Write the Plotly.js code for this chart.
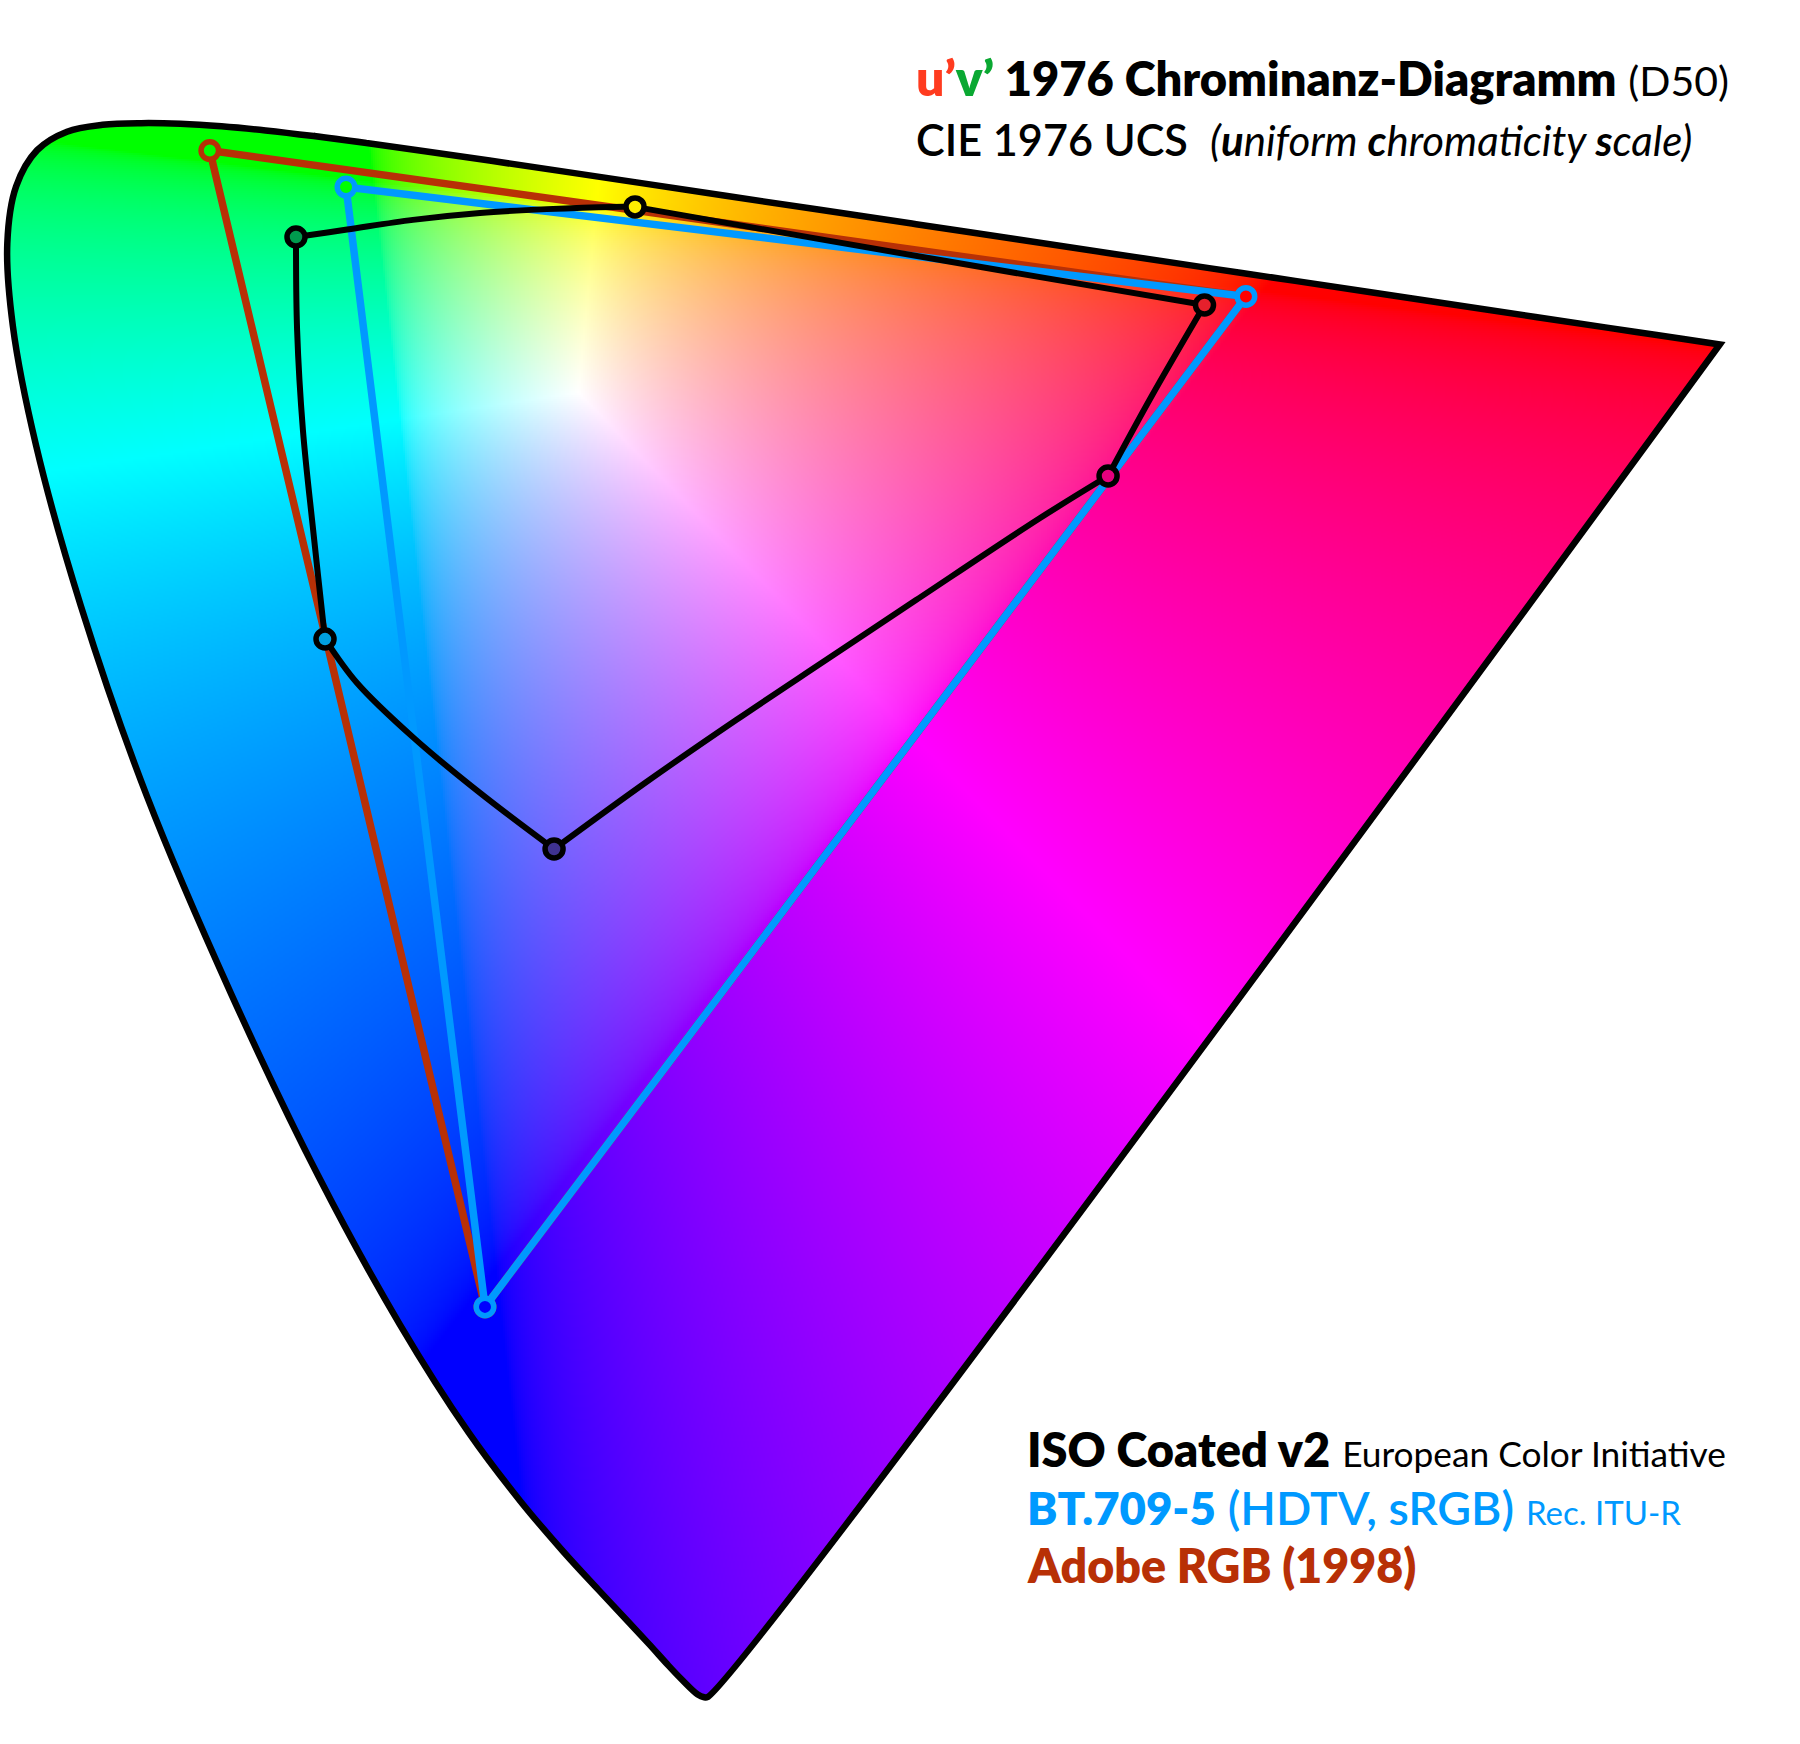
<!DOCTYPE html>
<html><head><meta charset="utf-8">
<script src="https://cdn.plot.ly/plotly-3.0.1.min.js"></script>
<style>html,body{margin:0;padding:0;background:#fff}</style></head>
<body><div id="chart" style="width:1800px;height:1744px"></div>
<script>
// CIE 1931 spectral locus chromaticities, 400 nm to 700 nm
const locusNm = [400,410,420,430,435,440,445,450,455,460,465,470,475,480,485,490,495,500,505,510,515,520,525,530,535,540,545,550,555,560,565,570,575,580,585,590,595,600,605,610,620,630,640,650,700];
const locusX = [.1733,.1726,.1714,.1689,.1669,.1644,.1611,.1566,.1510,.1440,.1355,.1241,.1096,.0913,.0687,.0454,.0235,.0082,.0039,.0139,.0389,.0743,.1142,.1547,.1929,.2296,.2658,.3016,.3373,.3731,.4087,.4441,.4788,.5125,.5448,.5752,.6029,.6270,.6482,.6658,.6915,.7079,.7190,.7260,.7347];
const locusY = [.0048,.0048,.0051,.0069,.0086,.0109,.0138,.0177,.0227,.0297,.0399,.0578,.0868,.1327,.2007,.2950,.4127,.5384,.6548,.7502,.8120,.8338,.8262,.8059,.7816,.7543,.7243,.6923,.6589,.6245,.5896,.5547,.5202,.4866,.4544,.4242,.3965,.3725,.3514,.3340,.3083,.2920,.2809,.2740,.2653];
// the drawn outline sits slightly inside the true locus
const insetCentre = [.28,.016], insetScale = [0.9965,0.998];

// gamut triangles (u', v'): red, green, blue, red
const adobeU = [.4507,.0757,.1753,.4507];
const adobeV = [.5229,.5757,.1572,.5229];
const adobeHole = ['#ff0000','#00ff00','#0000ff'];
const srgbU = [.4507,.1250,.1753,.4507];
const srgbV = [.5229,.5625,.1572,.5229];
const srgbHole = ['#ff0000','#00ff00','#0000ff'];

// ISO Coated v2 outline; repeated values are the gamut corners
const isoU = [.1069,.1069,.1254,.1492,.1735,.1977,.2216,.2296,.2296,.3422,.4357,.4357,.4164,.4008,.4008,.3762,.3313,.2987,.2662,.2332,.2003,.2003,.1735,.1492,.1290,.1174,.1174,.1131,.1094,.1073,.1069,.1069];
const isoV = [.5444,.5444,.5471,.5506,.5531,.5545,.5553,.5553,.5553,.5357,.5198,.5198,.4865,.4579,.4579,.4427,.4130,.3913,.3696,.3468,.3229,.3229,.3432,.3634,.3830,.3989,.3989,.4384,.4746,.5107,.5444,.5444];
const isoCornerU = [.1069,.2296,.4357,.4008,.2003,.1174];
const isoCornerV = [.5444,.5553,.5198,.4579,.3229,.3989];
const isoCornerFill = ['#009a4e','#ffed00','#e6202c','#e6007e','#3f3290','#00a0e0'];

const rangeU = [-0.00023, 0.65123];
const rangeV = [-0.00100, 0.63018];

const BLACK='#000000', BLUE='#0099ff', BRICK='#b83006';

function toU(x,y){return 4*x/(-2*x+12*y+3);}
function toV(x,y){return 9*y/(-2*x+12*y+3);}
const lu = locusX.map((x,i)=>insetCentre[0]+(toU(x,locusY[i])-insetCentre[0])*insetScale[0]);
const lv = locusX.map((x,i)=>insetCentre[1]+(toV(x,locusY[i])-insetCentre[1])*insetScale[1]);
// closed path beginning at 550 nm: the purple line joins 700 nm to 400 nm
const startI = locusNm.indexOf(550), endI = locusNm.length-1;
const order = [];
for(let i=startI;i<=endI;i++) order.push(i);
order.push(endI);
for(let i=0;i<=startI+1;i++) order.push(i);
const pathU = order.map(i=>lu[i]), pathV = order.map(i=>lv[i]);

// colour field: XYZ (D50) to sRGB, negative channels clipped, brightest channel at 1
const m = [[3.1338561,-1.6168667,-0.4906146],[-0.9787684,1.9161415,0.0334540],[0.0719453,-0.2289914,1.4052427]];
const gam = c => c<=0.0031308 ? 12.92*c : 1.055*Math.pow(c,1/2.4)-0.055;
const step = 2/2763;
const nx = Math.ceil((rangeU[1]-rangeU[0])/step)+1, ny = Math.ceil((rangeV[1]-rangeV[0])/step)+1;
const z = [];
for(let j=0;j<ny;j++){
  const v = Math.max(rangeV[0]+j*step,0.002), row = new Array(nx);
  for(let i=0;i<nx;i++){
    const u = rangeU[0]+i*step;
    const X = 9*u/(4*v), Z=(12-3*u-20*v)/(4*v);
    let r = m[0][0]*X+m[0][1]+m[0][2]*Z, g = m[1][0]*X+m[1][1]+m[1][2]*Z, b = m[2][0]*X+m[2][1]+m[2][2]*Z;
    r=Math.max(r,0); g=Math.max(g,0); b=Math.max(b,0);
    const mx=Math.max(r,g,b)||1;
    row[i]=[Math.round(255*gam(r/mx)),Math.round(255*gam(g/mx)),Math.round(255*gam(b/mx))];
  }
  z.push(row);
}

// white surround: plot rectangle with the locus as a hole
const maskU = [rangeU[0],rangeU[0],rangeU[0],rangeU[1],rangeU[1],rangeU[1],rangeU[1],rangeU[0],rangeU[0],null].concat(pathU);
const maskV = [rangeV[1],rangeV[0],rangeV[0],rangeV[0],rangeV[0],rangeV[1],rangeV[1],rangeV[1],rangeV[1],null].concat(pathV);

const ln = (color,width)=>({color,width,shape:'spline',smoothing:1,simplify:false});
const traces = [
 {type:'image',z,x0:rangeU[0],y0:rangeV[0],dx:step,dy:step,colormodel:'rgb',hoverinfo:'skip'},
 {type:'scatter',mode:'lines',x:maskU,y:maskV,fill:'toself',fillcolor:'#ffffff',line:{width:0,shape:'spline',smoothing:1,simplify:false},hoverinfo:'skip'},
 {type:'scatter',mode:'lines',x:pathU,y:pathV,line:ln(BLACK,6.5),hoverinfo:'skip'},
 {type:'scatter',mode:'lines',x:adobeU,y:adobeV,line:{color:BRICK,width:7.5},hoverinfo:'skip'},
 {type:'scatter',mode:'markers',x:adobeU.slice(0,3),y:adobeV.slice(0,3),marker:{size:17.5,color:adobeHole,line:{color:BRICK,width:5.5}},hoverinfo:'skip'},
 {type:'scatter',mode:'lines',x:srgbU,y:srgbV,line:{color:BLUE,width:7.5},hoverinfo:'skip'},
 {type:'scatter',mode:'markers',x:srgbU.slice(0,3),y:srgbV.slice(0,3),marker:{size:17.5,color:srgbHole,line:{color:BLUE,width:5.5}},hoverinfo:'skip'},
 {type:'scatter',mode:'lines',x:isoU,y:isoV,line:ln(BLACK,6),hoverinfo:'skip'},
 {type:'scatter',mode:'markers',x:isoCornerU,y:isoCornerV,marker:{size:18,color:isoCornerFill,line:{color:BLACK,width:5.5}},hoverinfo:'skip'}
];

const note=(x,py,text,size,color)=>({xref:'paper',yref:'paper',x:x/1800,y:1-py/1744,xanchor:'left',yanchor:'bottom',text,showarrow:false,align:'left',borderpad:0,
  font:{family:'Lato, sans-serif',size,color}});
const heavy=s=>'<span style="font-weight:800">'+s+'</span>';
const medium=s=>'<span style="font-weight:600">'+s+'</span>';
const annotations=[
 note(915,108,heavy('<span style="font-size:50px"><span style="color:#ff3b1f">u’</span><span style="color:#0aa832">v’</span></span> <span style="font-size:47px">1976 Chrominanz-Diagramm</span>')+' <span style="font-size:41px">(D50)</span>',46,BLACK),
 note(915,166,medium('CIE 1976 UCS')+'  <i><span style="font-size:42px">(<b>u</b>niform <b>c</b>hromaticity <b>s</b>cale)</span></i>',43.2,BLACK),
 note(1026,1478,heavy('ISO Coated v2')+' <span style="font-size:35.3px">European Color Initiative</span>',46.9,BLACK),
 note(1026,1536,'<span style="font-size:45.5px">'+heavy('BT.709-5')+'</span> '+medium('(HDTV, sRGB)')+' <span style="font-size:33px">Rec. ITU-R</span>',46.5,BLUE),
 note(1026,1594,heavy('Adobe RGB (1998)'),46.5,BRICK)
];

Plotly.newPlot('chart',traces,{
  width:1800,height:1744,margin:{l:0,r:0,t:0,b:0},showlegend:false,hovermode:false,
  paper_bgcolor:'#ffffff',plot_bgcolor:'#ffffff',
  xaxis:{range:rangeU,visible:false,fixedrange:true,showgrid:false,zeroline:false},
  yaxis:{range:rangeV,visible:false,fixedrange:true,showgrid:false,zeroline:false},
  annotations
},{displayModeBar:false,staticPlot:true});
</script></body></html>
